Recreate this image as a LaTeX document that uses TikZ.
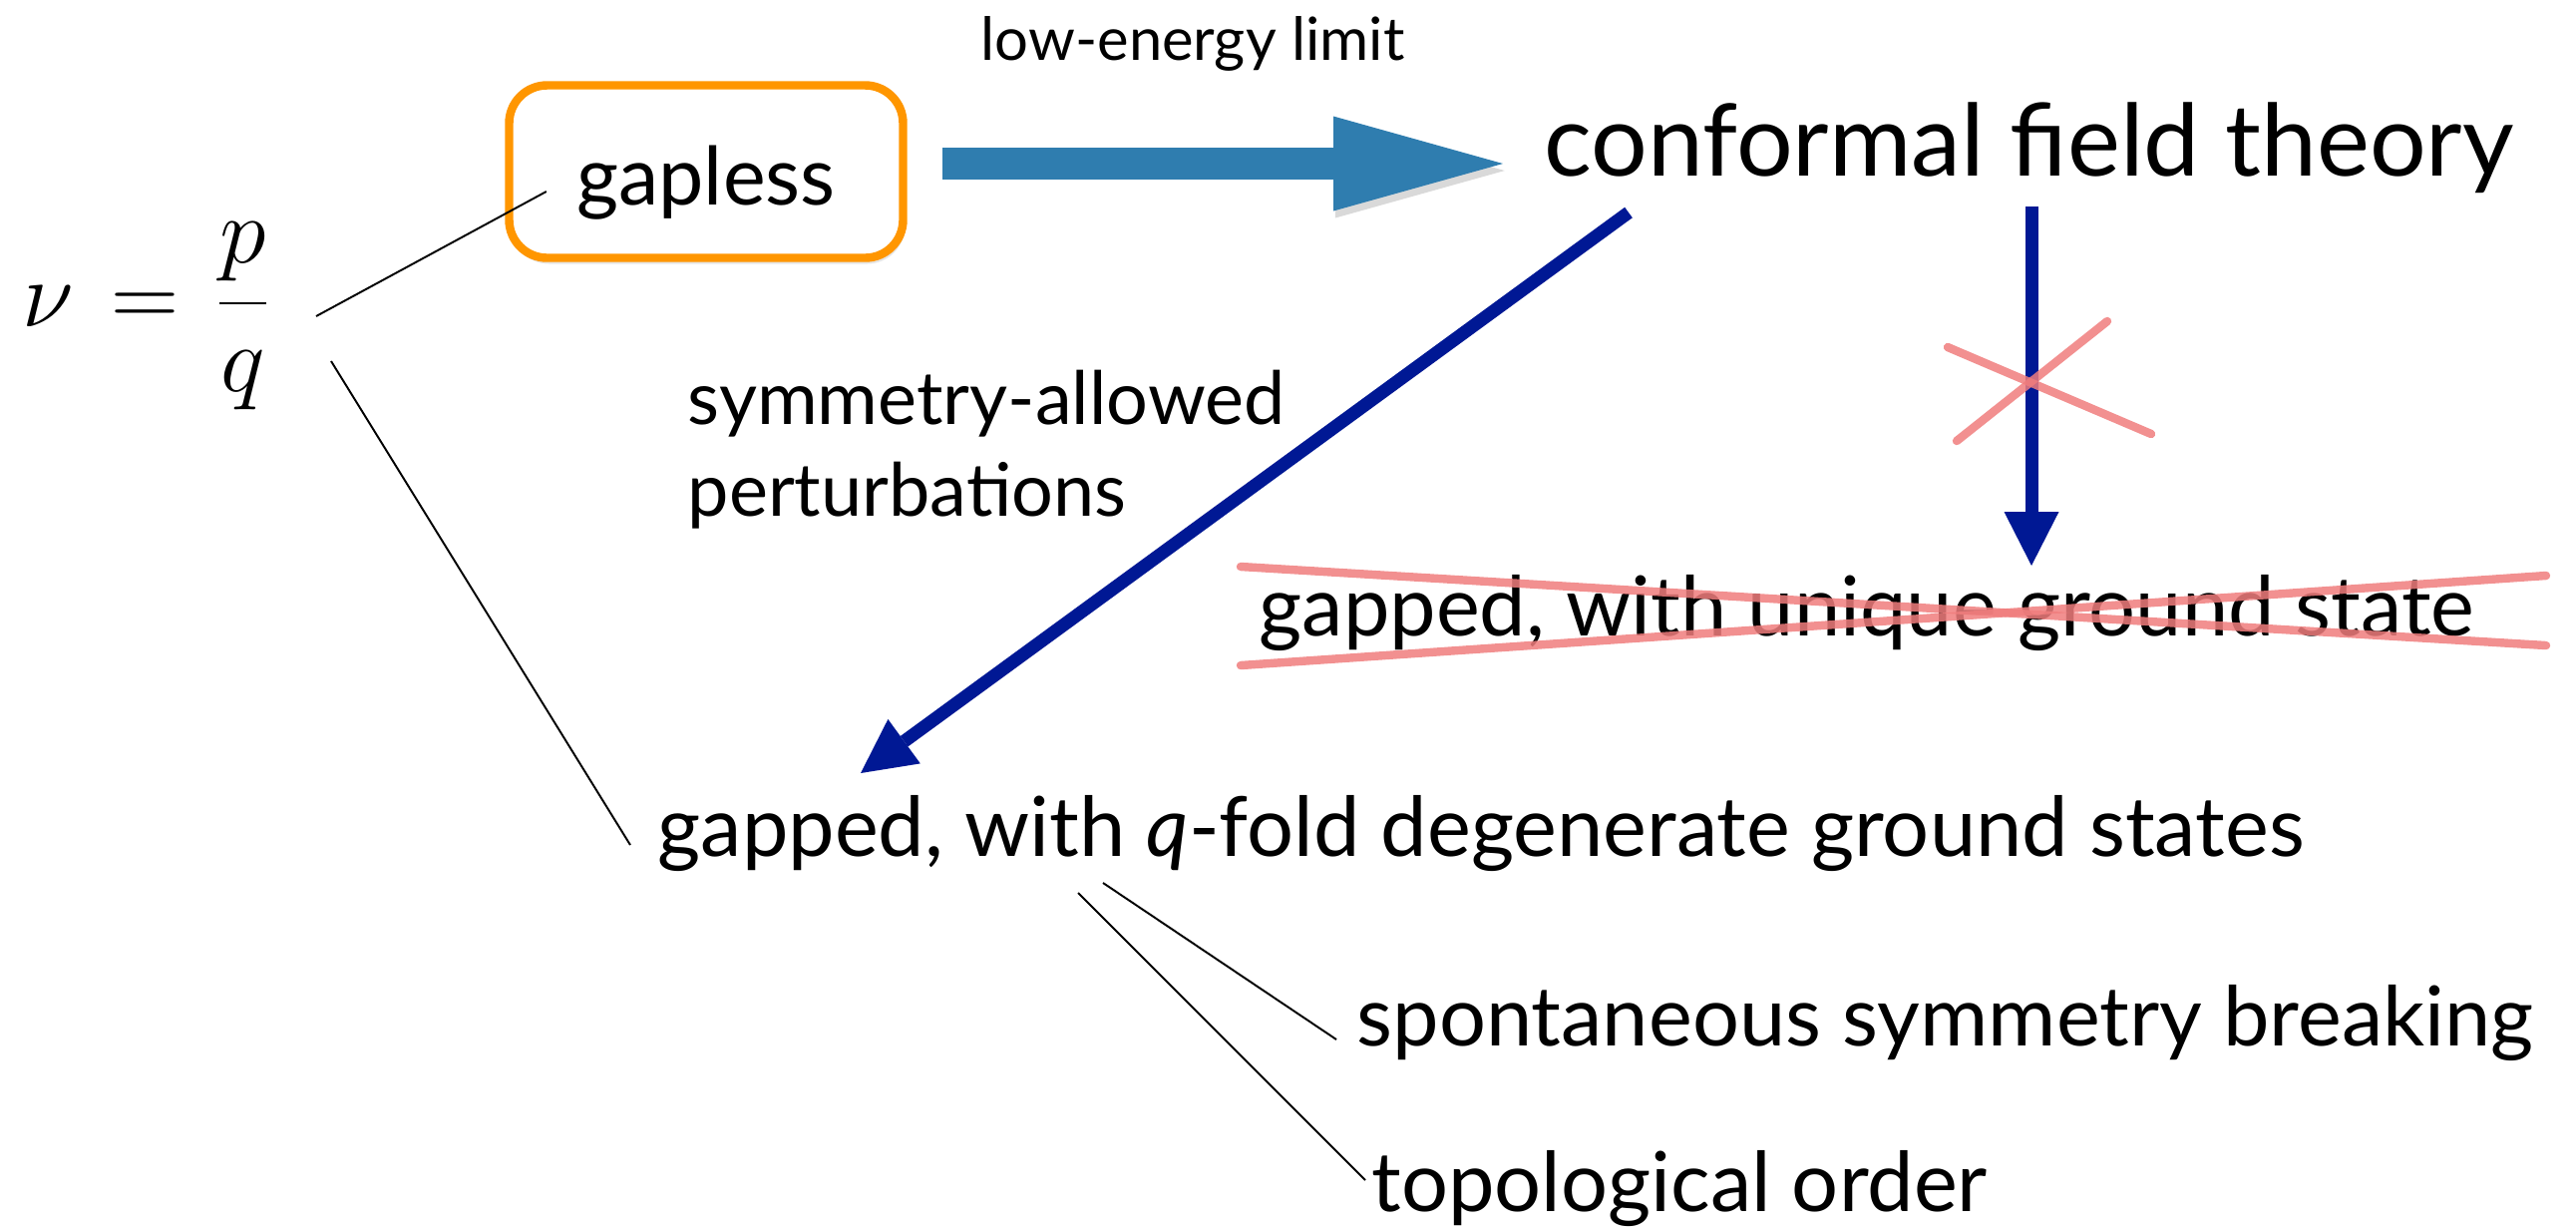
\documentclass[tikz,border=0pt]{standalone}
\usepackage{fontspec}
\setmainfont{Lato}
\usetikzlibrary{arrows.meta,calc,positioning,shadows}

\definecolor{flowblue}{RGB}{47,125,175}
\definecolor{navyarrow}{RGB}{0,24,148}
\definecolor{boxorange}{RGB}{255,150,0}
\definecolor{chalkred}{RGB}{240,125,125}

\begin{document}
\begin{tikzpicture}[
  txt/.style={inner sep=0pt,anchor=base west,font=\fontsize{23.6}{28}\selectfont},
  bigtxt/.style={txt,font=\fontsize{28.5}{34}\selectfont},
  smalltxt/.style={inner sep=0pt,font=\fontsize{21}{26.4}\selectfont},
  tinytxt/.style={txt,font=\fontsize{17}{20}\selectfont},
  phase/.style={draw=boxorange,line width=2.4pt,rounded corners=0.38cm,fill=white,
                minimum width=3.95cm,minimum height=1.73cm,
                text height=0.86cm,text depth=0.2cm,inner sep=0pt,
                font=\fontsize{23}{28}\selectfont,
                drop shadow={opacity=0.2,shadow xshift=0.02cm,shadow yshift=-0.06cm}},
  flow/.style={draw=flowblue,line width=0.32cm,
               -{Triangle[length=1.7cm,width=0.95cm,line width=0pt]},
               preaction={draw=black,opacity=0.15,
                          transform canvas={xshift=0.5pt,yshift=-2pt}}},
  rg/.style={draw=navyarrow,line width=0.13cm,
             -{Triangle[length=0.54cm,width=0.55cm,line width=0pt]}},
  wire/.style={draw,line width=0.55pt},
  strike/.style={draw=chalkred,line width=2.4pt,line cap=round,opacity=0.85},
]
\useasboundingbox (0,0) rectangle (25.83,-12.34);

% --- nodes ---
\node[tinytxt] (limit) at (9.83,-0.60) {low-energy limit};
\node[phase] (gapless) at (7.08,-1.72) {gapless};
\node[bigtxt] (cft) at (15.48,-1.76) {conformal field theory};
\node[inner sep=0pt,anchor=west,font=\fontsize{24.88}{30}\selectfont] (nu)
     at (0.22,-3.17) {\scalebox{1.08}{$\displaystyle\nu\mkern2mu=\mkern2mu\frac{p}{q}$}};
\node[smalltxt,anchor=north west,align=left] (perturb) at (6.89,-3.70)
     {symmetry-allowed\\perturbations};
\node[txt] (unique) at (12.62,-6.37) {gapped, with unique ground state};
\node[txt] (qfold) at (6.59,-8.58)
     {gapped, with \textit{q}-fold degenerate ground states};
\node[txt] (ssb) at (13.60,-10.48) {spontaneous symmetry breaking};
\node[txt] (topo) at (13.75,-12.14) {topological order};

% --- flow to the fixed point ---
\coordinate (a0) at ([xshift=0.355cm,yshift=0.08cm]gapless.east);
\draw[flow] (a0) -- ([xshift=-0.41cm]cft.west |- a0);

% --- perturbations out of the cft ---
\draw[rg] ([shift={(0.85,-0.37)}]cft.base west) -- ([shift={(2.04,0.83)}]qfold.base west);
\draw[rg] ([shift={(4.89,-0.31)}]cft.base west) -- ([shift={(7.75,0.70)}]unique.base west);

% forbidden flow
\coordinate (nogo) at (20.37,-3.82);
\draw[strike] ($(nogo)+(-0.84,0.34)$) -- ($(nogo)+(1.20,-0.53)$);
\draw[strike] ($(nogo)+(-0.75,-0.60)$) -- ($(nogo)+(0.76,0.60)$);
\draw[strike] ([shift={(-0.18,0.69)}]unique.base west) -- ([shift={(12.91,-0.10)}]unique.base west);
\draw[strike] ([shift={(-0.18,-0.30)}]unique.base west) -- ([shift={(12.91,0.60)}]unique.base west);

% --- thin wires ---
\draw[wire] ([xshift=0.45cm]nu.east) -- ([shift={(0.415,-0.20)}]gapless.west);
\draw[wire] ([shift={(0.60,-0.45)}]nu.east) -- ([shift={(-0.27,0.11)}]qfold.base west);
\draw[wire] ([shift={(4.47,-0.27)}]qfold.base west) -- ([shift={(-0.20,0.06)}]ssb.base west);
\draw[wire] ([shift={(4.22,-0.37)}]qfold.base west) -- ([shift={(-0.06,0.31)}]topo.base west);

\end{tikzpicture}
\end{document}
